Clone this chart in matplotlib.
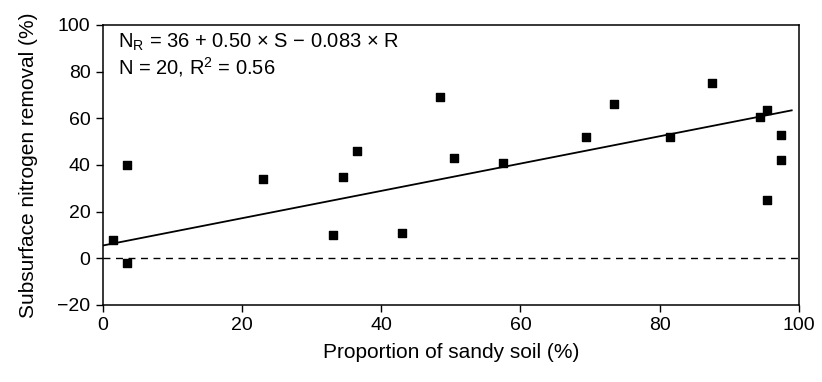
import numpy as np
import matplotlib
matplotlib.use("Agg")
import matplotlib.pyplot as plt

plt.rcParams['font.family'] = ['Liberation Sans', 'DejaVu Sans']
plt.rcParams['mathtext.default'] = 'regular'

# Data
sandy_soil = [1.5, 3.5, 3.5, 23, 33, 34.5, 36.5, 43, 48.5, 50.5,
              57.5, 69.5, 73.5, 81.5, 87.5, 94.5, 95.5, 95.5, 97.5, 97.5]
n_removal = [8, -2, 40, 34, 10, 35, 46, 11, 69, 43,
             41, 52, 66, 52, 75, 60.5, 63.5, 25, 53, 42]

# Regression line as drawn
fit_intercept = 5.5
fit_slope = 0.585
fit_range = [0, 99]

x_ticks = [0, 20, 40, 60, 80, 100]
y_ticks = [-20, 0, 20, 40, 60, 80, 100]

fig = plt.figure(figsize=(8.22, 3.82), dpi=100)
ax = fig.add_axes([0.1253, 0.2016, 0.8463, 0.733])

ax.scatter(sandy_soil, n_removal, marker='s', s=30, color='black', zorder=3)

fx = np.array(fit_range)
ax.plot(fx, fit_intercept + fit_slope * fx, color='black', lw=1.3)
ax.axhline(0, color='black', lw=1.0, ls=(0, (5, 4)))

ax.set_xlim(0, 100)
ax.set_ylim(-20, 100)
ax.set_xticks(x_ticks)
ax.set_yticks(y_ticks)
ax.tick_params(axis='both', direction='out', length=5, width=1,
               labelsize=14, pad=4)
for s in ax.spines.values():
    s.set_linewidth(1.1)

ax.set_xlabel('Proportion of sandy soil (%)', fontsize=15, labelpad=6)
ax.set_ylabel('Subsurface nitrogen removal (%)', fontsize=15, labelpad=14)

ax.text(0.022, 0.975,
        'N$_R$ = 36 + 0.50 \u00d7 S \u2212 0.083 \u00d7 R\nN = 20, R$^2$ = 0.56',
        transform=ax.transAxes, ha='left', va='top', fontsize=14.5,
        linespacing=1.1)

fig.savefig('out.png', dpi=100)
